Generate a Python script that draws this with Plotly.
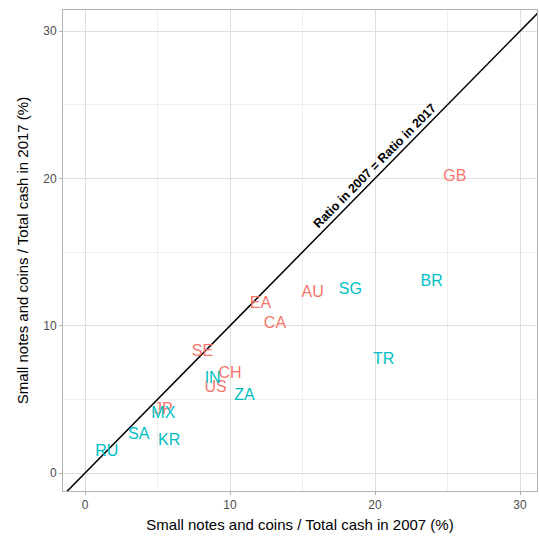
import plotly.graph_objects as go

countries_a = ["GB", "AU", "EA", "CA", "SE", "CH", "US", "JP"]
x2007_a = [25.5, 15.7, 12.1, 13.1, 8.1, 10.0, 9.0, 5.4]
y2017_a = [20.1, 12.2, 11.5, 10.1, 8.2, 6.7, 5.8, 4.3]

countries_b = ["BR", "SG", "TR", "IN", "ZA", "MX", "SA", "KR", "RU"]
x2007_b = [23.9, 18.3, 20.6, 8.8, 11.0, 5.4, 3.7, 5.8, 1.5]
y2017_b = [13.0, 12.4, 7.7, 6.4, 5.2, 4.0, 2.6, 2.2, 1.4]

diag = [-5, 35]

font = "Liberation Sans, Arial, sans-serif"

fig = go.Figure()
fig.add_trace(go.Scatter(x=diag, y=diag, mode="lines",
                         line=dict(color="black", width=1.5), hoverinfo="skip"))
fig.add_trace(go.Scatter(x=x2007_a, y=y2017_a, text=countries_a, mode="text",
                         textfont=dict(color="#F8766D", size=16, family=font)))
fig.add_trace(go.Scatter(x=x2007_b, y=y2017_b, text=countries_b, mode="text",
                         textfont=dict(color="#00BFC4", size=16, family=font)))

fig.add_annotation(x=20, y=20, text="<b>Ratio in 2007 = Ratio in 2017</b>",
                   textangle=-45.4, showarrow=False, xshift=0, yshift=12,
                   font=dict(size=12.5, color="black", family=font))

axis_common = dict(
    showgrid=True, gridcolor="#DEDEDE", gridwidth=1,
    zeroline=False, showline=True, mirror=True, linecolor="#B3B3B3", linewidth=1,
    ticks="outside", ticklen=3, tickcolor="#B3B3B3",
    tickfont=dict(size=12, color="#4D4D4D", family=font),
    dtick=10, tick0=0, automargin=False,
    minor=dict(dtick=5, tick0=0, showgrid=True, gridcolor="#EEEEEE", gridwidth=1),
)

fig.update_layout(
    width=539, height=539,
    margin=dict(l=63, r=2, t=10, b=48),
    plot_bgcolor="white", paper_bgcolor="white",
    showlegend=False,
    font=dict(family=font),
    xaxis=dict(range=[-1.52, 31.17],
               title=dict(text="Small notes and coins / Total cash in 2007 (%)",
                          font=dict(size=15, color="black"), standoff=8),
               **axis_common),
    yaxis=dict(range=[-1.22, 31.43],
               title=dict(text="Small notes and coins / Total cash in 2017 (%)",
                          font=dict(size=15, color="black"), standoff=10),
               **axis_common),
)

fig.write_html("out.html", config={"displayModeBar": False},
               post_script="document.body.style.margin='0';document.body.style.overflow='hidden';")
